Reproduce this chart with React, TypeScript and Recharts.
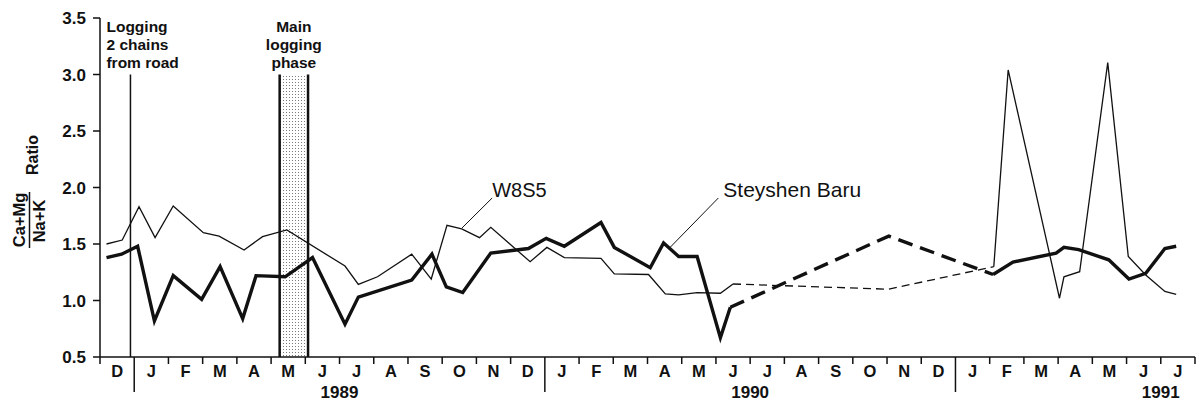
import React from "react";
import {
  LineChart,
  Line,
  XAxis,
  YAxis,
  ReferenceLine,
  ReferenceArea,
} from "recharts";

// Sampling dates are in months counted from 1 December 1988.
// Steyshen Baru (heavy line): solid run, unsampled gap, solid run.
const baruMonthsA = [
  0.19, 0.63, 1.1, 1.59, 2.14, 2.97, 3.51, 4.17, 4.56, 5.41, 6.21, 7.16, 7.55,
  9.11, 9.7, 10.12, 10.6, 11.42, 12.52, 13.04, 13.57, 14.64, 15.03, 16.08,
  16.47, 16.91, 17.45, 18.13, 18.42,
];
const baruRatioA = [
  1.38, 1.41, 1.48, 0.82, 1.22, 1.01, 1.3, 0.84, 1.22, 1.21, 1.38, 0.79, 1.03,
  1.18, 1.41, 1.12, 1.07, 1.42, 1.46, 1.55, 1.48, 1.69, 1.47, 1.29, 1.51, 1.39,
  1.39, 0.67, 0.94,
];
const baruMonthsGap = [18.42, 23.05, 26.1];
const baruRatioGap = [0.94, 1.57, 1.23];
const baruMonthsB = [26.1, 26.68, 27.94, 28.17, 28.6, 29.48, 30.07, 30.56, 31.12, 31.45];
const baruRatioB = [1.23, 1.34, 1.42, 1.47, 1.45, 1.36, 1.19, 1.24, 1.46, 1.48];

// W8S5 (light line)
const w8s5MonthsA = [
  0.19, 0.65, 1.14, 1.61, 2.14, 3.02, 3.48, 4.21, 4.75, 5.46, 7.16, 7.55, 8.11,
  9.11, 9.68, 10.14, 10.57, 11.09, 11.42, 12.57, 13.06, 13.57, 14.64, 15.03,
  16.03, 16.52, 16.91, 17.45, 18.13, 18.5,
];
const w8s5RatioA = [
  1.5, 1.535, 1.83, 1.556, 1.836, 1.6, 1.57, 1.447, 1.565, 1.624, 1.305, 1.143,
  1.21, 1.41, 1.19, 1.665, 1.633, 1.556, 1.648, 1.343, 1.47, 1.38, 1.373, 1.235,
  1.23, 1.058, 1.05, 1.07, 1.064, 1.146,
];
const w8s5MonthsGap = [18.5, 23.05, 26.12];
const w8s5RatioGap = [1.146, 1.1, 1.3];
const w8s5MonthsB = [26.12, 26.54, 28.04, 28.17, 28.63, 29.45, 30.05, 30.56, 31.12, 31.45];
const w8s5RatioB = [1.3, 3.04, 1.02, 1.21, 1.255, 3.105, 1.39, 1.226, 1.08, 1.055];

const monthLetters = [
  "D",
  "J", "F", "M", "A", "M", "J", "J", "A", "S", "O", "N", "D",
  "J", "F", "M", "A", "M", "J", "J", "A", "S", "O", "N", "D",
  "J", "F", "M", "A", "M", "J", "J",
];
const yearLabels = ["1989", "1990", "1991"];
const yearLabelMonths = [7, 19, 31];
const yearBreaks = [1, 13, 25];
const ratioTicks = [0.5, 1, 1.5, 2, 2.5, 3, 3.5];

// logging events (month positions)
const roadLoggingMonth = 0.89;
const mainPhaseStart = 5.25;
const mainPhaseEnd = 6.08;

const INK = "#111";
const FONT = "'Liberation Sans', Arial, Helvetica, sans-serif";

const zip = (months: number[], ratios: number[]) =>
  months.map((m, i) => ({ m, ratio: ratios[i] }));

const monthTicks = monthLetters.flatMap((_, i) => [i, i + 0.5]).concat([monthLetters.length]);

function MonthTick({ x, y, payload }: any) {
  const v = payload.value;
  if (Number.isInteger(v)) {
    const long = yearBreaks.includes(v);
    return <line x1={x} x2={x} y1={y} y2={y + (long ? 35 : 7)} stroke={INK} strokeWidth={1.5} />;
  }
  return (
    <text x={x} y={y + 20} textAnchor="middle" fontFamily={FONT} fontSize={16.5} fontWeight="bold" fill={INK}>
      {monthLetters[Math.floor(v)]}
    </text>
  );
}

// year caption hung under the axis from an invisible reference line
function YearCaption({ viewBox, text }: any) {
  return (
    <text
      x={viewBox.x}
      y={viewBox.y + viewBox.height + 41}
      textAnchor="middle"
      fontFamily={FONT}
      fontSize={17}
      fontWeight="bold"
      fill={INK}
    >
      {text}
    </text>
  );
}

// multi-line note stacked above a reference mark
function StackedNote({ viewBox, lines, dx = 0, anchor = "start" }: any) {
  const x = viewBox.x + dx;
  const top = viewBox.y;
  return (
    <text fontFamily={FONT} fontSize={15.5} fontWeight="bold" fill={INK} textAnchor={anchor}>
      {lines.map((s: string, i: number) => (
        <tspan key={i} x={x} y={top - 43 + i * 18}>
          {s}
        </tspan>
      ))}
    </text>
  );
}

function SeriesTag({ viewBox, text, size, dx = 0 }: any) {
  return (
    <text x={viewBox.x + viewBox.width + dx} y={viewBox.y - 1} fontFamily={FONT} fontSize={size} fill={INK}>
      {text}
    </text>
  );
}

function RatioTitle() {
  const cy = 220;
  return (
    <g fontFamily={FONT} fontWeight="bold" fontSize={16.5} fill={INK}>
      <text transform={`translate(25,${cy}) rotate(-90)`} textAnchor="middle">Ca+Mg</text>
      <line x1={29.5} x2={29.5} y1={cy - 28} y2={cy + 28} stroke={INK} strokeWidth={1.5} />
      <text transform={`translate(45,${cy + 1}) rotate(-90)`} textAnchor="middle">Na+K</text>
      <text transform={`translate(38,155) rotate(-90)`} textAnchor="middle" fontSize={16}>Ratio</text>
    </g>
  );
}

export default function App() {
  const thick = { stroke: INK, strokeWidth: 3.4, dot: false, isAnimationActive: false, type: "linear" as const };
  const thin = { stroke: INK, strokeWidth: 1.3, dot: false, isAnimationActive: false, type: "linear" as const };
  return (
    <div style={{ position: "absolute", left: 0, top: 0, width: 1198, height: 401, background: "#fff" }}>
      <LineChart width={1198} height={401} margin={{ top: 18, right: 3, bottom: 0, left: 0 }}>
        <defs>
          <pattern id="stipple" width="3" height="3" patternUnits="userSpaceOnUse">
            <rect width="3" height="3" fill="#fff" />
            <rect x="1" y="1" width="1" height="1" fill="#7a7a7a" />
          </pattern>
        </defs>
        <XAxis
          dataKey="m"
          type="number"
          domain={[0, 32]}
          ticks={monthTicks}
          interval={0}
          tickSize={0}
          tickMargin={0}
          tickLine={false}
          height={44}
          axisLine={{ stroke: INK, strokeWidth: 1.5 }}
          tick={<MonthTick />}
        />
        <YAxis
          type="number"
          domain={[0.5, 3.5]}
          ticks={ratioTicks}
          interval={0}
          width={100}
          tickSize={7}
          tickMargin={7}
          tickFormatter={(v: number) => v.toFixed(1)}
          tick={{ fontFamily: FONT, fontSize: 17, fontWeight: "bold", fill: INK }}
          axisLine={{ stroke: INK, strokeWidth: 1.5 }}
          tickLine={{ stroke: INK, strokeWidth: 1.5 }}
          label={<RatioTitle />}
        />

        {yearLabelMonths.map((m, i) => (
          <ReferenceLine key={yearLabels[i]} x={m} stroke="none" label={<YearCaption text={yearLabels[i]} />} />
        ))}

        <ReferenceArea
          x1={mainPhaseStart}
          x2={mainPhaseEnd}
          y1={0.5}
          y2={3}
          fill="url(#stipple)"
          fillOpacity={1}
          stroke="none"
          label={<StackedNote lines={["Main", "logging", "phase"]} dx={(mainPhaseEnd - mainPhaseStart) * 17.1} anchor="middle" />}
        />
        <ReferenceLine segment={[{ x: mainPhaseStart, y: 0.5 }, { x: mainPhaseStart, y: 3 }]} stroke={INK} strokeWidth={2.5} />
        <ReferenceLine segment={[{ x: mainPhaseEnd, y: 0.5 }, { x: mainPhaseEnd, y: 3 }]} stroke={INK} strokeWidth={2.5} />
        <ReferenceLine
          segment={[{ x: roadLoggingMonth, y: 0.5 }, { x: roadLoggingMonth, y: 3 }]}
          stroke={INK}
          strokeWidth={1.5}
          label={<StackedNote lines={["Logging", "2 chains", "from road"]} dx={-24} />}
        />

        <Line data={zip(w8s5MonthsA, w8s5RatioA)} dataKey="ratio" {...thin} />
        <Line data={zip(w8s5MonthsGap, w8s5RatioGap)} dataKey="ratio" {...thin} strokeDasharray="8 5" />
        <Line data={zip(w8s5MonthsB, w8s5RatioB)} dataKey="ratio" {...thin} />
        <Line data={zip(baruMonthsA, baruRatioA)} dataKey="ratio" {...thick} />
        <Line data={zip(baruMonthsGap, baruRatioGap)} dataKey="ratio" {...thick} strokeDasharray="15 8" />
        <Line data={zip(baruMonthsB, baruRatioB)} dataKey="ratio" {...thick} />

        <ReferenceLine
          segment={[{ x: 10.58, y: 1.642 }, { x: 11.46, y: 1.907 }]}
          stroke={INK}
          strokeWidth={1}
          label={<SeriesTag text="W8S5" size={20} />}
        />
        <ReferenceLine
          segment={[{ x: 16.67, y: 1.473 }, { x: 18.07, y: 1.907 }]}
          stroke={INK}
          strokeWidth={1}
          label={<SeriesTag text="Steyshen Baru" size={21} dx={5} />}
        />
      </LineChart>
    </div>
  );
}
